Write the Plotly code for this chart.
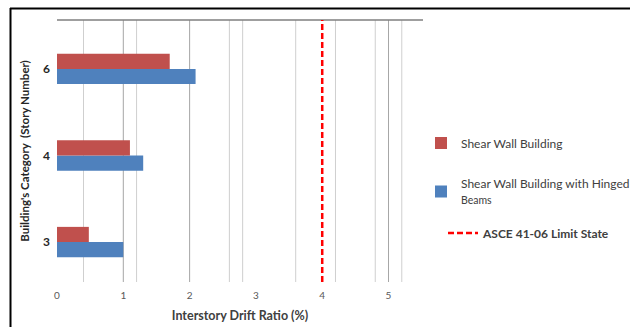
import plotly.graph_objects as go

# Story categories (bottom to top) and peak interstory drift ratios (%)
stories = ["3", "4", "6"]
shear_wall = [0.48, 1.10, 1.70]
shear_wall_hinged = [1.00, 1.30, 2.09]
limit_state = 4.0

x_ticks = [0, 1, 2, 3, 4, 5]
grid_light = [0.4, 1.2, 2.6, 2.8, 3.6, 4.2, 4.8, 5.2]
grid_dark = [1, 2, 5]

RED = "#C0504D"
BLUE = "#4F81BD"
FONT = "Lato, 'Open Sans', sans-serif"

W, H = 630, 327
L, R, T, B = 57, 207, 20, 45
X_RANGE = [0, 5.52]
PW, PH = W - L - R, H - T - B

fig = go.Figure()

# Blue first so the red bar sits above it within each group
fig.add_trace(go.Bar(
    y=stories, x=shear_wall_hinged, orientation="h",
    name="Shear Wall Building with Hinged<br><span style='font-size:10.5px'>Beams</span>",
    marker=dict(color=BLUE, line=dict(width=0)), legend="legend2",
))
fig.add_trace(go.Bar(
    y=stories, x=shear_wall, orientation="h",
    name="Shear Wall Building",
    marker=dict(color=RED, line=dict(width=0)), legend="legend",
))
fig.add_trace(go.Scatter(
    x=[limit_state, limit_state], y=[0, 1], yaxis="y2", mode="lines",
    name="<b>ASCE 41-06 Limit State</b>",
    line=dict(color="#FF0000", width=2.5, dash="6px,3px"), legend="legend3",
))

# vertical gridlines (drawn beneath the bars)
shapes = []
for vals, color in ((grid_light, "#cfcfcf"), (grid_dark, "#a6a6a6")):
    for v in vals:
        shapes.append(dict(type="line", xref="x", yref="paper", x0=v, x1=v,
                           y0=0, y1=1, layer="below",
                           line=dict(color=color, width=1)))
# top border of the plot area
shapes.append(dict(type="line", xref="paper", yref="paper", x0=0, x1=1,
                   y0=1, y1=1, layer="below",
                   line=dict(color="#7f7f7f", width=1.5)))
# outer frame, top and left edges
shapes.append(dict(type="line", xref="paper", yref="paper",
                   x0=(10 - L) / PW, x1=(W - L) / PW,
                   y0=(H - B - 8.5) / PH, y1=(H - B - 8.5) / PH,
                   line=dict(color="black", width=2)))
shapes.append(dict(type="line", xref="paper", yref="paper",
                   x0=(10.5 - L) / PW, x1=(10.5 - L) / PW,
                   y0=-B / PH, y1=(H - B - 8) / PH,
                   line=dict(color="black", width=2)))

legend_common = dict(
    xref="container", yref="container", xanchor="left", yanchor="middle",
    bgcolor="rgba(0,0,0,0)", borderwidth=0,
    font=dict(family=FONT, size=12, color="#404040"),
)

fig.update_layout(
    width=W, height=H,
    margin=dict(l=L, r=R, t=T, b=B, autoexpand=False),
    paper_bgcolor="white", plot_bgcolor="white",
    barmode="group", bargap=0.65, bargroupgap=0,
    font=dict(family=FONT, color="#404040"),
    showlegend=True,
    legend=dict(x=421 / W, y=1 - 143 / H, **legend_common),
    legend2=dict(x=421 / W, y=1 - 192 / H, **legend_common),
    legend3=dict(x=443 / W, y=1 - 233 / H, **legend_common),
    xaxis=dict(
        range=X_RANGE, tickvals=x_ticks, ticktext=[str(v) for v in x_ticks],
        showgrid=False, zeroline=False, showline=False, ticks="",
        ticklabelstandoff=6,
        tickfont=dict(family=FONT, size=10, color="#595959"),
        title=dict(text="<b>Interstory Drift Ratio (%)</b>",
                   font=dict(family=FONT, size=12.5, color="#404040"), standoff=11),
    ),
    yaxis=dict(
        type="category", range=[-0.462, 2.566], showgrid=False,
        zeroline=False, showline=False, ticks="", ticklabelstandoff=6,
        tickfont=dict(family=FONT, size=12, color="#262626", weight="bold"),
        title=dict(text="<b>Building's Category  (Story Number)</b>",
                   font=dict(family=FONT, size=11.5, color="#262626"), standoff=11),
    ),
    yaxis2=dict(overlaying="y", range=[0, 1], visible=False),
    shapes=shapes,
)

fig.write_html("out.html")
